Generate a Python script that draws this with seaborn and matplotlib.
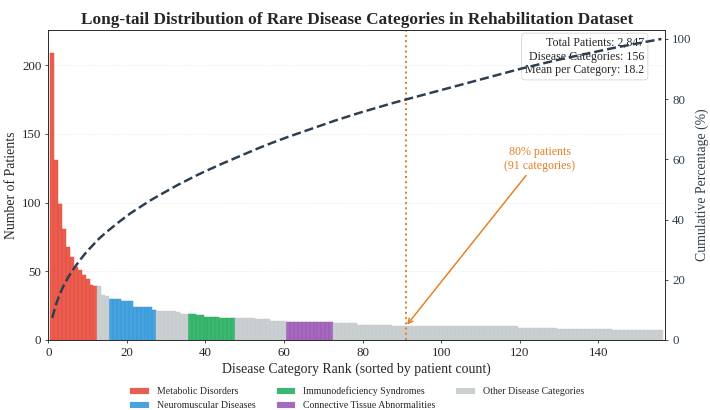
import numpy as np
import pandas as pd
import seaborn as sns
import matplotlib.pyplot as plt

# patient counts per disease category, sorted by rank
metabolic = [209, 131, 99, 81, 68, 60, 53, 51, 47, 44, 40, 39]
other_a = [39, 33, 32]
neuromuscular = [30, 30, 30, 28, 28, 28, 24, 24, 24, 24, 24, 22]
other_b = [21, 21, 21, 21, 21, 20, 19, 19]
immuno = [19, 19, 18, 18, 17, 17, 17, 17, 16, 16, 16, 16]
other_c = [16, 16, 16, 16, 16, 15, 15, 15, 15, 14, 14, 14, 14]
connective = [13, 13, 13, 13, 13, 13, 13, 13, 13, 13, 13, 13]
other_tail = [12, 12, 12, 12, 12, 12,
              11, 11, 11, 11, 11, 11, 11, 11, 11,
              10, 10, 10, 10, 10, 10, 10, 10, 10, 10, 10, 10, 10, 10, 10, 10,
              10, 10, 10, 10, 10, 10, 10, 10, 10, 10, 10, 10, 10, 10, 10, 10,
              9, 9, 9, 9, 9, 9, 9, 9, 9, 9,
              8, 8, 8, 8, 8, 8, 8, 8, 8, 8, 8, 8, 8, 8,
              7, 7, 7, 7, 7, 7, 7, 7, 7, 7, 7, 7, 7]

category_names = ["Metabolic Disorders", "Neuromuscular Diseases", "Immunodeficiency Syndromes",
                  "Connective Tissue Abnormalities", "Other Disease Categories"]
category_colors = ["#e74c3c", "#3498db", "#27ae60", "#9b59b6", "#c5cacd"]

segments = [(metabolic, category_names[0]), (other_a, category_names[4]),
            (neuromuscular, category_names[1]), (other_b, category_names[4]),
            (immuno, category_names[2]), (other_c, category_names[4]),
            (connective, category_names[3]), (other_tail, category_names[4])]

counts = np.array([v for seg, _ in segments for v in seg])
cats = [name for seg, name in segments for _ in seg]
ranks = np.arange(1, len(counts) + 1)
cum_pct = np.cumsum(counts) / counts.sum() * 100
n80 = int(np.argmax(cum_pct >= 80))

df = pd.DataFrame({"rank": ranks, "count": counts, "category": cats})

navy = "#2c3e50"
orange = "#e67e22"

sns.set_style("ticks")
plt.rcParams['font.family'] = ['Liberation Serif', 'DejaVu Serif']

fig, ax = plt.subplots(figsize=(10, 5.775), dpi=71)
sns.barplot(data=df, x="rank", y="count", hue="category", hue_order=category_names,
            palette=dict(zip(category_names, category_colors)), native_scale=True,
            width=1.0, dodge=False, errorbar=None, saturation=1, alpha=0.9, ax=ax)
for p in ax.patches:
    p.set_edgecolor(p.get_facecolor())
    p.set_linewidth(0.5)

ax.set_xlim(0, 157)
ax.set_ylim(0, counts.max() * 1.08)
ax.set_xticks(range(0, 141, 20))
ax.grid(axis='y', linestyle='--', alpha=0.3)
ax.set_axisbelow(True)
ax.set_xlabel("Disease Category Rank (sorted by patient count)", fontsize=14)
ax.set_ylabel("Number of Patients", fontsize=14)
ax.tick_params(labelsize=13)
ax.set_title("Long-tail Distribution of Rare Disease Categories in Rehabilitation Dataset",
             fontsize=17.5, fontweight='bold')

ax.axvline(n80, color=orange, linestyle=':', linewidth=2)
ax.annotate(f"80% patients\n({n80} categories)", xy=(n80, counts[n80]), xytext=(125, 132),
            ha='center', va='center', color=orange, fontsize=12,
            arrowprops=dict(arrowstyle='->', color=orange, lw=1.5))

ax.text(0.966, 0.978,
        f"Total Patients: {counts.sum():,}\nDisease Categories: {len(counts)}\n"
        f"Mean per Category: {counts.mean():.1f}",
        transform=ax.transAxes, ha='right', va='top', fontsize=12,
        bbox=dict(boxstyle='round', facecolor='white', alpha=0.8, edgecolor='lightgray'))

ax2 = ax.twinx()
sns.lineplot(x=ranks, y=cum_pct, ax=ax2, color=navy, linestyle='--', linewidth=2.5)
ax2.set_ylim(0, 103)
ax2.set_ylabel("Cumulative Percentage (%)", color=navy, fontsize=14)
ax2.tick_params(axis='y', labelcolor=navy, labelsize=13)

sns.move_legend(ax, "upper center", bbox_to_anchor=(0.5, -0.12), ncol=3, frameon=False,
                title=None, fontsize=10)

plt.subplots_adjust(left=0.068, right=0.937, top=0.927, bottom=0.171)
plt.savefig("out.png")
